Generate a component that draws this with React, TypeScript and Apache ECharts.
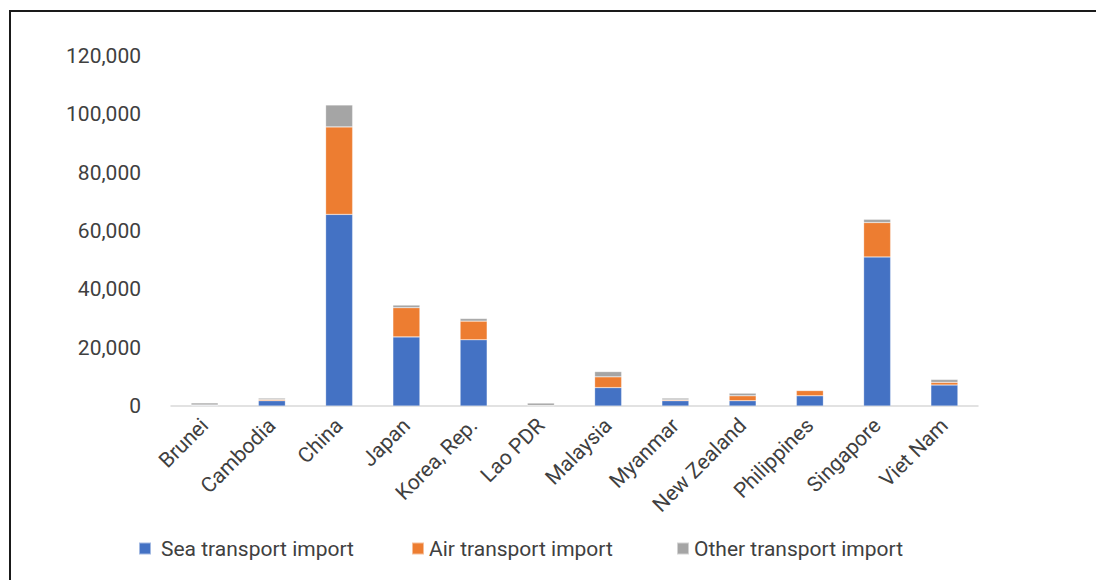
import React, { useEffect, useRef } from "react";
import * as echarts from "echarts";

const categories = [
  "Brunei", "Cambodia", "China", "Japan", "Korea, Rep.", "Lao PDR",
  "Malaysia", "Myanmar", "New Zealand", "Philippines", "Singapore", "Viet Nam",
];
const seaImport = [200, 1800, 65700, 23700, 22700, 100, 6300, 1800, 1800, 3500, 51100, 7200];
const airImport = [150, 400, 30000, 10000, 6400, 100, 3700, 300, 1700, 1800, 11800, 900];
const otherImport = [700, 500, 7500, 900, 900, 800, 1800, 600, 900, 200, 1100, 1000];
const seriesNames = ["Sea transport import", "Air transport import", "Other transport import"];
const colors = ["#4472C4", "#ED7D31", "#A5A5A5"];

const FONT = "Roboto, 'Liberation Sans', sans-serif";

export default function App() {
  const ref = useRef<HTMLDivElement>(null);
  useEffect(() => {
    document.body.style.margin = "0";
    if (!ref.current) return;
    const chart = echarts.init(ref.current, undefined, { renderer: "svg" });
    const values = [seaImport, airImport, otherImport];
    const legendLefts = [138, 411, 676];
    chart.setOption({
      animation: false,
      backgroundColor: "#ffffff",
      textStyle: { fontFamily: FONT },
      grid: { left: 171, right: 118, top: 56, bottom: 174 },
      legend: seriesNames.map((n, i) => ({
        data: [n],
        left: legendLefts[i],
        top: 538,
        padding: 0,
        itemWidth: 12,
        itemHeight: 12,
        icon: "rect",
        textStyle: {
          fontFamily: FONT,
          fontSize: 21,
          color: "#404040",
          padding: i === 0 ? [0, 0, 0, 5] : 0,
        },
      })),
      xAxis: {
        type: "category",
        data: categories,
        axisLine: { show: true, lineStyle: { color: "#d9d9d9", width: 1.5 } },
        axisTick: { show: false },
        axisLabel: {
          rotate: 45,
          interval: 0,
          margin: 16,
          fontSize: 21,
          color: "#404040",
          fontFamily: FONT,
        },
      },
      yAxis: {
        type: "value",
        min: 0,
        max: 120000,
        interval: 20000,
        splitLine: { show: false },
        axisLine: { show: false },
        axisTick: { show: false },
        axisLabel: {
          margin: 30,
          fontSize: 21,
          color: "#404040",
          fontFamily: FONT,
          formatter: (v: number) => v.toLocaleString("en-US"),
        },
      },
      series: seriesNames.map((n, i) => ({
        name: n,
        type: "bar",
        stack: "total",
        barWidth: 27,
        data: values[i],
        itemStyle: { color: colors[i], borderColor: "rgba(255,255,255,0.5)", borderWidth: 0.5 },
      })),
      graphic: [
        {
          type: "rect",
          shape: { x: 10, y: 11, width: 1200, height: 700 },
          style: { fill: "none", stroke: "#1a1a1a", lineWidth: 2 },
          silent: true,
        },
      ],
    });
    return () => chart.dispose();
  }, []);
  return <div ref={ref} style={{ width: 1096, height: 580 }} />;
}
